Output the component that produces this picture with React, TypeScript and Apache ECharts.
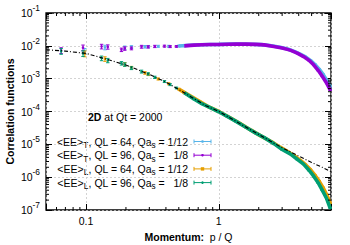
import React, { useEffect, useRef } from "react";
import * as echarts from "echarts";

const FONT = '"Liberation Sans", Arial, Helvetica, sans-serif';
const X_MIN = 0.05;
const X_MAX = 7;
const Y_MIN = 1e-7;
const Y_MAX = 1e-1;

// QL = 96, Qa_s = 1/8
const momentum96 = [0.065, 0.095, 0.131, 0.146, 0.185, 0.196, 0.22, 0.262, 0.294, 0.33, 0.39, 0.43, 0.48, 0.55, 0.65, 0.75, 0.87, 1.0, 1.15, 1.35, 1.6, 1.9, 2.2, 2.6, 3.0, 3.45, 3.9, 4.35, 4.8, 5.2, 5.6, 6.0, 6.5, 6.9];
const eeT96 = [7.3e-3, 8.8e-3, 9.6e-3, 9.3e-3, 7.6e-3, 8.3e-3, 8.4e-3, 9.4e-3, 9.3e-3, 9.6e-3, 9.8e-3, 9.5e-3, 9.6e-3, 1.0e-2, 1.05e-2, 1.08e-2, 1.1e-2, 1.1e-2, 1.12e-2, 1.13e-2, 1.13e-2, 1.11e-2, 1.07e-2, 9.6e-3, 8.6e-3, 7.4e-3, 6.0e-3, 4.7e-3, 3.6e-3, 2.6e-3, 1.8e-3, 1.2e-3, 7.3e-4, 4.5e-4];
const eeL96 = [6.9e-3, 5.9e-3, 4.2e-3, 3.6e-3, 2.95e-3, 2.7e-3, 2.1e-3, 1.65e-3, 1.4e-3, 1.1e-3, 8.2e-4, 6.6e-4, 5.2e-4, 3.7e-4, 2.4e-4, 1.7e-4, 1.28e-4, 9.8e-5, 7.2e-5, 5.0e-5, 3.3e-5, 2.2e-5, 1.6e-5, 1.05e-5, 7.0e-6, 5.1e-6, 3.5e-6, 2.5e-6, 1.6e-6, 1.05e-6, 6.8e-7, 4.1e-7, 2.2e-7, 1.15e-7];
const errors96 = [0.2, 0.2, 0.16, 0.15, 0.12, 0.12, 0.1, 0.1, 0.08, 0.08, 0.07, 0.07, 0.06, 0.05, 0.04, 0.04, 0.04, 0.04, 0.04, 0.04, 0.04, 0.04, 0.04, 0.04, 0.04, 0.04, 0.04, 0.04, 0.04, 0.04, 0.04, 0.04, 0.04, 0.04];

// QL = 64, Qa_s = 1/12
const momentum64 = [0.098, 0.139, 0.196, 0.22, 0.278, 0.295, 0.35, 0.42, 0.5, 0.6, 0.72, 0.85, 1.0, 1.2, 1.45, 1.75, 2.1, 2.5, 2.9, 3.3, 3.7, 4.1, 4.5, 4.9, 5.3, 5.7, 6.1, 6.5, 6.9];
const eeT64 = [6.9e-3, 9.0e-3, 8.8e-3, 9.2e-3, 9.4e-3, 9.5e-3, 9.7e-3, 9.7e-3, 9.9e-3, 1.04e-2, 1.08e-2, 1.1e-2, 1.11e-2, 1.13e-2, 1.13e-2, 1.12e-2, 1.09e-2, 1.0e-2, 9.0e-3, 8.0e-3, 6.8e-3, 5.6e-3, 4.6e-3, 3.6e-3, 2.7e-3, 1.95e-3, 1.35e-3, 9.0e-4, 5.8e-4];
const eeL64 = [5.8e-3, 4.0e-3, 2.75e-3, 2.15e-3, 1.5e-3, 1.35e-3, 9.8e-4, 7.0e-4, 4.8e-4, 3.1e-4, 2.0e-4, 1.35e-4, 1.0e-4, 6.7e-5, 4.3e-5, 2.7e-5, 1.75e-5, 1.2e-5, 8.2e-6, 6.0e-6, 4.5e-6, 3.3e-6, 2.4e-6, 1.7e-6, 1.15e-6, 7.6e-7, 4.8e-7, 2.9e-7, 1.65e-7];
const errors64 = [0.2, 0.16, 0.12, 0.1, 0.09, 0.08, 0.07, 0.07, 0.06, 0.04, 0.04, 0.04, 0.04, 0.04, 0.04, 0.04, 0.04, 0.04, 0.04, 0.04, 0.04, 0.04, 0.04, 0.04, 0.04, 0.04, 0.04, 0.04, 0.04];

// dash-dotted reference curve
const fitMomentum = [0.05, 0.07, 0.1, 0.15, 0.2, 0.3, 0.4, 0.5, 0.65, 0.8, 1.0, 1.45, 2.0, 2.9, 4.0, 5.0, 6.0, 7.0];
const fitValue = [7.6e-3, 6.9e-3, 5.9e-3, 3.7e-3, 2.6e-3, 1.35e-3, 7.8e-4, 4.7e-4, 2.45e-4, 1.5e-4, 1.0e-4, 4.2e-5, 2.0e-5, 8.5e-6, 4.4e-6, 2.8e-6, 2.0e-6, 1.47e-6];

const legendQL = ["64", "96", "64", "96"];
const legendQa = ["1/12", "  1/8", "1/12", "  1/8"];
const legendSub = ["T", "T", "L", "L"];
const seriesColors = ["#56b4e9", "#9400d3", "#e69f00", "#009e73"];
const minorMultipliers = [2, 3, 4, 5, 6, 7, 8, 9];
const decadesX = [0.01, 0.1, 1];
const decadesY = [1e-7, 1e-6, 1e-5, 1e-4, 1e-3, 1e-2];

const isDecade = (v: number) => {
  const l = Math.log10(v);
  return Math.abs(l - Math.round(l)) < 1e-6;
};

function errorSeries(name: string, color: string, ps: number[], vs: number[], errs: number[]) {
  return {
    type: "custom",
    name,
    coordinateSystem: "cartesian2d",
    xAxisIndex: 0,
    yAxisIndex: 0,
    silent: true,
    data: ps.map((p, i) => [p, vs[i], vs[i] * (1 - errs[i]), vs[i] * (1 + errs[i])]),
    encode: { x: 0, y: 1 },
    renderItem: (params: any, api: any) => {
      const x = api.value(0);
      const c = api.coord([x, api.value(1)]);
      const lo = api.coord([x, api.value(2)]);
      const hi = api.coord([x, api.value(3)]);
      const w = 1.7;
      const st = { stroke: color, lineWidth: 1 };
      return {
        type: "group",
        children: [
          { type: "line", shape: { x1: c[0], y1: lo[1], x2: c[0], y2: hi[1] }, style: st },
          { type: "line", shape: { x1: c[0] - w, y1: lo[1], x2: c[0] + w, y2: lo[1] }, style: st },
          { type: "line", shape: { x1: c[0] - w, y1: hi[1], x2: c[0] + w, y2: hi[1] }, style: st },
          { type: "circle", shape: { cx: c[0], cy: c[1], r: 1.3 }, style: { fill: color } },
        ],
      };
    },
  };
}

function bandSeries(name: string, color: string, ps: number[], vs: number[]) {
  return {
    type: "line",
    name,
    xAxisIndex: 0,
    yAxisIndex: 0,
    showSymbol: false,
    silent: true,
    data: ps.map((p, i) => [p, vs[i]]).filter((d) => d[0] >= 0.5),
    lineStyle: { color, width: 3.6 },
  };
}

export default function App() {
  const ref = useRef<HTMLDivElement>(null);
  useEffect(() => {
    if (!ref.current) return;
    const chart = echarts.init(ref.current, null, { renderer: "svg" });

    const minorTicks: number[][] = [];
    decadesX.forEach((d) =>
      minorMultipliers.forEach((m) => {
        const v = d * m;
        if (v > X_MIN * 1.0001 && v < X_MAX * 0.9999) minorTicks.push([v, 1e-4, 0]);
      })
    );
    decadesY.forEach((d) =>
      minorMultipliers.forEach((m) => minorTicks.push([1, d * m, 1]))
    );

    const rowY = [141.5, 155.2, 168.9, 182.6];
    const legendChildren: any[] = [];
    rowY.forEach((y, i) => {
      const color = seriesColors[i];
      legendChildren.push({
        type: "text",
        x: 188,
        y,
        style: {
          text: `{n|<EE>}{s|${legendSub[i]}}{n|, QL = ${legendQL[i]}, Qa}{s|s}{n| = ${legendQa[i]}}`,
          align: "right",
          verticalAlign: "middle",
          rich: {
            n: { fontSize: 10.5, fontFamily: FONT, fill: "#000", lineHeight: 16 },
            s: { fontSize: 8.2, fontFamily: FONT, fill: "#000", lineHeight: 9, verticalAlign: "bottom" },
          },
        },
      });
      const st = { stroke: color, lineWidth: 1 };
      legendChildren.push(
        { type: "line", shape: { x1: 194, y1: y, x2: 211, y2: y }, style: st },
        { type: "line", shape: { x1: 194, y1: y - 2, x2: 194, y2: y + 2 }, style: st },
        { type: "line", shape: { x1: 211, y1: y - 2, x2: 211, y2: y + 2 }, style: st },
        i === 2
          ? { type: "rect", shape: { x: 200.8, y: y - 1.7, width: 3.4, height: 3.4 }, style: { fill: color } }
          : { type: "circle", shape: { cx: 202.5, cy: y, r: 1.3 }, style: { fill: color } }
      );
    });

    const option: any = {
      animation: false,
      backgroundColor: "#fff",
      grid: {
        left: 46,
        top: 13,
        width: 285,
        height: 197,
        show: true,
        borderColor: "#000",
        borderWidth: 1.3,
        backgroundColor: "transparent",
      },
      xAxis: [
        {
          type: "log",
          min: X_MIN,
          max: X_MAX,
          position: "bottom",
          axisLine: { show: false },
          axisTick: { inside: true, length: 6, lineStyle: { color: "#000", width: 1 } },
          axisLabel: {
            margin: 5,
            fontSize: 10.5,
            fontFamily: FONT,
            color: "#000",
            formatter: (v: number) => (isDecade(v) ? String(+v.toPrecision(1)) : ""),
          },
          splitLine: { show: true, lineStyle: { color: "#c8c8c8", width: 0.8, type: [2, 2] } },
        },
        {
          type: "log",
          min: X_MIN,
          max: X_MAX,
          position: "top",
          axisLine: { show: false },
          axisTick: { inside: true, length: 6, lineStyle: { color: "#000", width: 1 } },
          axisLabel: { show: false },
          splitLine: { show: false },
        },
      ],
      yAxis: [
        {
          type: "log",
          min: Y_MIN,
          max: Y_MAX,
          position: "left",
          axisLine: { show: false },
          axisTick: { inside: true, length: 6, lineStyle: { color: "#000", width: 1 } },
          axisLabel: {
            margin: 6,
            color: "#000",
            formatter: (v: number) =>
              isDecade(v) ? `{b|10}{s|${Math.round(Math.log10(v))}}` : "",
            rich: {
              b: { fontSize: 10.5, fontFamily: FONT, color: "#000", lineHeight: 18 },
              s: { fontSize: 8.4, fontFamily: FONT, color: "#000", lineHeight: 9, verticalAlign: "top" },
            },
          },
          splitLine: { show: true, lineStyle: { color: "#c8c8c8", width: 0.8, type: [2, 2] } },
        },
        {
          type: "log",
          min: Y_MIN,
          max: Y_MAX,
          position: "right",
          axisLine: { show: false },
          axisTick: { inside: true, length: 6, lineStyle: { color: "#000", width: 1 } },
          axisLabel: { show: false },
          splitLine: { show: false },
        },
      ],
      series: [
        bandSeries("T64", seriesColors[0], momentum64, eeT64),
        errorSeries("T64e", seriesColors[0], momentum64, eeT64, errors64),
        bandSeries("T96", seriesColors[1], momentum96, eeT96),
        errorSeries("T96e", seriesColors[1], momentum96, eeT96, errors96),
        bandSeries("L64", seriesColors[2], momentum64, eeL64),
        errorSeries("L64e", seriesColors[2], momentum64, eeL64, errors64),
        bandSeries("L96", seriesColors[3], momentum96, eeL96),
        errorSeries("L96e", seriesColors[3], momentum96, eeL96, errors96),
        {
          type: "line",
          name: "fit",
          xAxisIndex: 0,
          yAxisIndex: 0,
          showSymbol: false,
          silent: true,
          z: 5,
          data: fitMomentum.map((p, i) => [p, fitValue[i]]),
          lineStyle: { color: "#000", width: 1.1, type: [4, 2, 1, 2] },
        },
        {
          type: "custom",
          name: "minorTicks",
          coordinateSystem: "cartesian2d",
          xAxisIndex: 0,
          yAxisIndex: 0,
          silent: true,
          clip: false,
          z: 6,
          data: minorTicks,
          renderItem: (params: any, api: any) => {
            const kind = api.value(2);
            const st = { stroke: "#000", lineWidth: 1 };
            if (kind === 0) {
              const x = api.value(0);
              const b = api.coord([x, Y_MIN]);
              const t = api.coord([x, Y_MAX]);
              return {
                type: "group",
                children: [
                  { type: "line", shape: { x1: b[0], y1: b[1], x2: b[0], y2: b[1] - 3 }, style: st },
                  { type: "line", shape: { x1: t[0], y1: t[1], x2: t[0], y2: t[1] + 3 }, style: st },
                ],
              };
            }
            const y = api.value(1);
            const l = api.coord([X_MIN, y]);
            const r = api.coord([X_MAX, y]);
            return {
              type: "group",
              children: [
                { type: "line", shape: { x1: l[0], y1: l[1], x2: l[0] + 3, y2: l[1] }, style: st },
                { type: "line", shape: { x1: r[0], y1: r[1], x2: r[0] - 3, y2: r[1] }, style: st },
              ],
            };
          },
        },
      ],
      graphic: [
        {
          type: "text",
          x: 10,
          y: 111.5,
          rotation: Math.PI / 2,
          style: {
            text: "Correlation functions",
            fontSize: 10.5,
            fontWeight: "bold",
            fontFamily: FONT,
            fill: "#000",
            align: "center",
            verticalAlign: "middle",
          },
        },
        {
          type: "text",
          x: 188.5,
          y: 237,
          style: {
            text: "{b|Momentum:}{n|  p / Q}",
            align: "center",
            verticalAlign: "middle",
            rich: {
              b: { fontSize: 10.5, fontWeight: "bold", fontFamily: FONT, fill: "#000" },
              n: { fontSize: 10.5, fontFamily: FONT, fill: "#000" },
            },
          },
        },
        {
          type: "text",
          x: 125.2,
          y: 116.7,
          style: {
            text: "{b|2D}{n| at Qt = 2000}",
            align: "center",
            verticalAlign: "middle",
            rich: {
              b: { fontSize: 10.5, fontWeight: "bold", fontFamily: FONT, fill: "#000" },
              n: { fontSize: 10.5, fontFamily: FONT, fill: "#000" },
            },
          },
        },
        { type: "group", children: legendChildren },
      ],
    };
    chart.setOption(option);
    return () => chart.dispose();
  }, []);
  return (
    <div
      ref={ref}
      style={{ position: "fixed", left: 0, top: 0, width: 350, height: 245, background: "#fff" }}
    />
  );
}
